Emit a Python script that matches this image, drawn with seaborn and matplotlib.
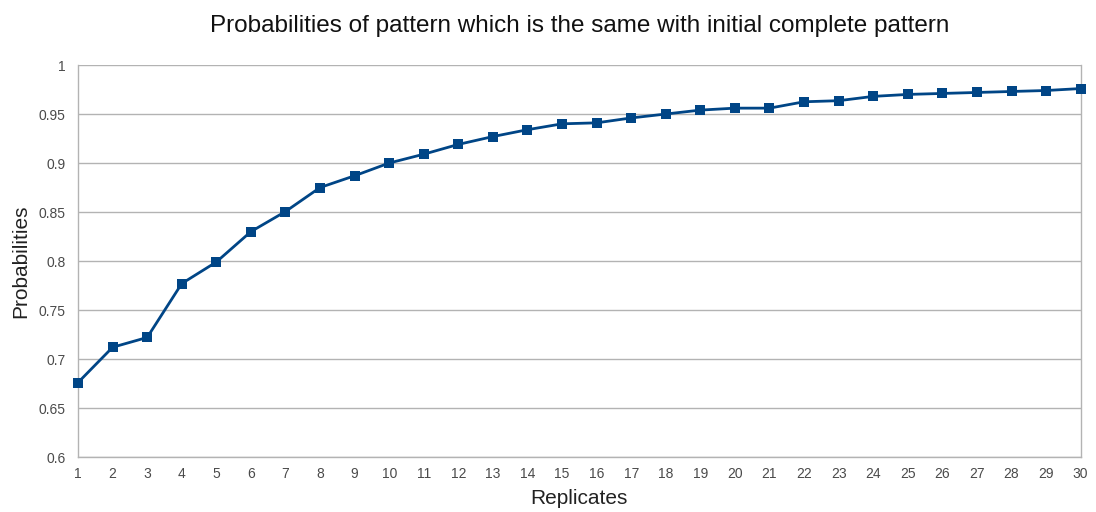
import matplotlib
matplotlib.use("Agg")
import matplotlib.pyplot as plt
import seaborn as sns
import pandas as pd

# Probability that a replicate reproduces the initial complete pattern
replicates = list(range(1, 31))
probabilities = [0.676, 0.712, 0.722, 0.777, 0.799, 0.830, 0.8505, 0.875, 0.887, 0.900,
                 0.909, 0.919, 0.927, 0.934, 0.940, 0.941, 0.946, 0.950, 0.954, 0.956,
                 0.956, 0.9625, 0.9636, 0.968, 0.970, 0.971, 0.972, 0.973, 0.974, 0.976]
y_ticks = [0.6, 0.65, 0.7, 0.75, 0.8, 0.85, 0.9, 0.95, 1]
y_tick_labels = ["0.6", "0.65", "0.7", "0.75", "0.8", "0.85", "0.9", "0.95", "1"]

sns.set_theme(style="white")
plt.rcParams["font.family"] = ["Liberation Sans", "DejaVu Sans"]

df = pd.DataFrame({"Replicates": replicates, "Probabilities": probabilities})

fig = plt.figure(figsize=(10.96, 5.12), dpi=100)
ax = fig.add_axes([0.0712, 0.1074, 0.9148, 0.7656])

sns.lineplot(data=df, x="Replicates", y="Probabilities", ax=ax,
             color="#004586", linewidth=2, marker="s", markersize=6.5,
             markeredgewidth=0, markerfacecolor="#004586", clip_on=False, zorder=5)

ax.set_xlim(1, 30)
ax.set_ylim(0.6, 1)
ax.set_xticks(replicates)
ax.set_xticklabels([str(r) for r in replicates])
ax.set_yticks(y_ticks)
ax.set_yticklabels(y_tick_labels)

grid_color = "#b3b3b3"
ax.yaxis.grid(True, color=grid_color, linewidth=1)
ax.xaxis.grid(False)
ax.set_axisbelow(True)
for side in ["left", "bottom", "right", "top"]:
    ax.spines[side].set_color(grid_color)
    ax.spines[side].set_linewidth(1)
ax.spines["top"].set_visible(False)

ax.tick_params(axis="both", which="major", length=5, width=1, color=grid_color,
               labelsize=10, labelcolor="#4a4a4a")
ax.tick_params(axis="x", direction="inout", length=8, pad=3)
ax.tick_params(axis="y", direction="out", pad=4)

ax.set_xlabel("Replicates", fontsize=15, color="#222222", labelpad=6)
ax.set_ylabel("Probabilities", fontsize=15, color="#222222", labelpad=6)
ax.set_title("Probabilities of pattern which is the same with initial complete pattern",
             fontsize=17.5, color="#111111", pad=24)

fig.savefig("out.png", dpi=100)
